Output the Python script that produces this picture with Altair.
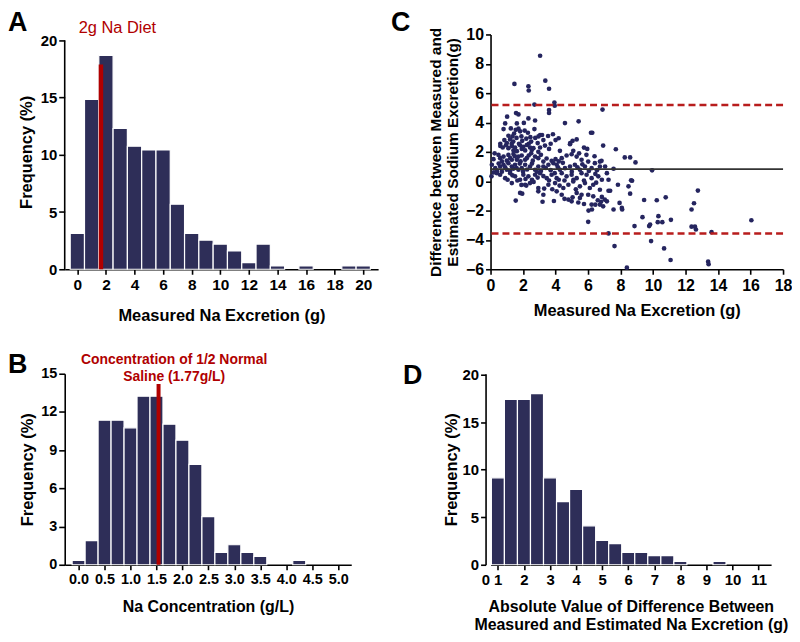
import altair as alt
import pandas as pd

FONT = "Liberation Sans"
NAVY = "#2e2e58"
DOT = "#25255f"
RED = "#b00000"
DASH_RED = "#b81d1d"

# ---------------- Panel A : Measured Na excretion histogram ----------------
a_bins = list(range(0, 21))
a_freq = [3.13, 14.84, 18.7, 12.3, 10.75, 10.43, 10.43, 5.68, 3.13, 2.55, 2.2,
          1.6, 0.58, 2.2, 0.29, 0, 0.29, 0, 0, 0.29, 0.29]
a_xticks = [0, 2, 4, 6, 8, 10, 12, 14, 16, 18, 20]
a_yticks = [0, 5, 10, 15, 20]
a_marker_x = [1.65]
a_marker_top = [17.9]
a_label = "2g Na Diet"

# ---------------- Panel B : Na concentration histogram ----------------
b_bins = [0.0, 0.25, 0.5, 0.75, 1.0, 1.25, 1.5, 1.75, 2.0, 2.25, 2.5, 2.75,
          3.0, 3.25, 3.5, 3.75, 4.0, 4.25, 4.5, 4.75, 5.0]
b_freq = [0.34, 1.9, 11.35, 11.35, 10.75, 13.23, 13.23, 11.04, 9.78, 7.88,
          3.78, 0.97, 1.57, 0.97, 0.65, 0, 0, 0.34, 0, 0, 0]
b_xticks = [0.0, 0.5, 1.0, 1.5, 2.0, 2.5, 3.0, 3.5, 4.0, 4.5, 5.0]
b_yticks = [0, 3, 6, 9, 12, 15]
b_marker_x = [1.54]
b_marker_top = [14.2]
b_label = ["Concentration of 1/2 Normal", "Saline (1.77g/L)"]

# ---------------- Panel C : Bland-Altman scatter ----------------
c_x = [3.05, 1.47, 2.33, 2.35, 3.37, 3.6, 2.7, 3.93, 3.95, 3.6, 3.6, 6.89, 1.57, 1.72, 1.02, 2.33, 2.74, 4.58, 5.42, 0.9, 1.62, 2.05,
       0.8, 1.25, 1.55, 1.72, 1.82, 2.3, 2.7, 3.05, 3.17, 3.54, 3.84, 6.18, 6.26, 1.1, 1.35, 1.9, 2.45, 2.95, 1.45, 2.1,
       0.85, 1.0, 1.2, 1.4, 1.6, 1.75, 1.95, 2.2, 2.5, 2.75, 2.9, 3.25, 4.19, 4.0, 4.9, 5.05, 5.3, 3.7, 0.6, 1.3, 2.35,
       0.6, 0.75, 0.95, 1.1, 1.31, 1.41, 1.51, 1.62, 1.82, 1.92, 2.02, 2.13, 2.23, 2.43, 2.54, 2.64, 2.94, 3.35, 4.27, 4.89,
       5.09, 5.75, 6.93, 7.71, 5.95, 3.05, 3.6,
       0.18, 0.25, 0.49, 0.59, 0.8, 1.1, 1.21, 1.31, 1.41, 1.62, 1.72, 1.92, 2.13, 2.23, 2.5, 2.74, 2.94, 3.1, 3.25, 3.76,
       4.0, 4.38, 4.68, 4.99, 5.3, 5.6, 6.01, 6.4, 6.73, 6.83, 8.26, 8.59, 0.7, 1.0, 1.5, 1.85, 2.35, 2.6, 3.45, 4.2, 5.45, 5.9,
       0.08, 0.29, 0.59, 0.8, 1.0, 1.1, 1.31, 1.51, 1.72, 1.92, 2.13, 2.43, 2.74, 2.94, 3.25, 3.56, 3.87, 4.07, 4.27, 4.58,
       4.89, 5.19, 5.5, 5.81, 6.22, 6.42, 6.73, 8.92, 9.94, 7.16, 0.4, 0.5, 0.7, 0.9, 1.2, 1.4, 1.6, 1.8, 2.0, 2.25,
       2.55, 2.85, 3.1, 3.4, 3.7, 4.15, 4.45, 5.0, 5.35, 5.65, 6.05, 6.55, 7.05, 7.57,
       0.06, 0.2, 0.39, 0.59, 0.9, 1.21, 1.51, 1.82, 2.02, 2.33, 2.74, 3.05, 3.46, 3.76, 4.07, 4.38, 4.68, 4.99, 5.3, 5.6,
       5.91, 6.22, 6.63, 1.05, 1.35, 1.65, 2.15, 2.55, 2.9, 3.25, 3.6, 3.95, 4.2, 4.55, 5.1, 5.75, 6.45, 6.85, 7.26, 8.71, 8.65,
       1.31, 2.13, 2.43, 2.94, 3.56, 3.97, 4.48, 4.79, 5.09, 5.5, 5.81, 6.11, 6.32, 6.73, 7.84, 2.2, 2.65, 3.3, 3.8, 4.25,
       5.25, 6.5, 8.49, 1.9,
       1.82, 2.94, 3.25, 4.07, 4.38, 4.79, 4.99, 5.3, 5.5, 5.6, 6.01, 6.22, 6.32, 6.73, 6.93, 7.03, 1.55, 1.95, 3.2, 3.9,
       4.55, 5.4, 5.75, 5.05, 6.8, 6.6, 6.45, 7.26, 7.36, 8.59, 7.16, 7.57, 7.94, 8.08, 8.1, 6.24, 6.03, 6.01, 7.26, 7.63,
       8.39, 8.86, 9.35, 9.45, 9.76, 9.82, 9.88, 10.23, 10.33, 10.29, 10.57, 10.78, 10.68, 11.1, 11.08, 12.37, 12.52, 12.76,
       12.37, 12.58, 12.64, 13.39, 13.42, 13.6, 16.05, 6.85]
c_y = [8.55, 6.63, 6.47, 6.18, 6.85, 6.3, 5.22, 5.36, 5.14, 4.85, 4.65, 4.88, 4.64, 4.55, 4.4, 4.28, 4.14, 3.96, 4.08, 3.94, 3.94, 3.97,
       3.55, 3.6, 3.5, 3.58, 3.4, 3.3, 3.55, 3.15, 3.15, 3.08, 3.2, 3.3, 3.3, 3.1, 3.05, 3.05, 3.0, 3.05, 3.25, 3.45,
       2.8, 2.6, 2.85, 2.7, 2.95, 2.55, 2.75, 2.9, 2.7, 2.95, 2.6, 2.8, 2.93, 2.8, 2.6, 2.75, 2.85, 2.55, 2.55, 2.55, 2.55,
       2.4, 2.3, 2.45, 2.25, 2.4, 2.1, 2.3, 2.05, 2.45, 2.2, 2.35, 2.1, 2.47, 2.3, 2.13, 2.25, 2.0, 2.43, 2.07, 2.52,
       2.07, 2.29, 2.43, 2.18, 2.2, 2.3, 2.2,
       1.5, 1.9, 1.79, 1.57, 1.68, 1.79, 1.57, 1.46, 1.85, 1.46, 1.68, 1.75, 1.46, 1.57, 1.9, 1.68, 1.57, 1.8, 1.34, 1.39,
       1.5, 1.57, 1.75, 1.84, 1.68, 1.46, 1.34, 1.7, 1.34, 1.39, 1.62, 1.62, 1.35, 1.4, 1.7, 1.35, 1.75, 1.4, 1.55, 1.35, 1.9, 1.8,
       1.12, 0.89, 1.0, 1.12, 0.78, 1.23, 1.0, 1.12, 0.78, 0.89, 1.12, 1.0, 0.78, 1.0, 1.0, 1.12, 1.23, 1.12, 0.78, 0.89,
       1.0, 1.12, 0.78, 1.0, 0.89, 1.23, 1.0, 1.28, 0.74, 0.55, 0.7, 1.2, 0.65, 0.95, 0.7, 0.85, 0.9, 1.2, 0.65, 0.8,
       1.2, 0.65, 0.7, 0.9, 0.75, 0.95, 1.25, 0.65, 0.95, 1.15, 0.7, 0.75, 1.0, 0.85,
       0.33, 0.6, 0.55, 0.44, 0.21, 0.55, 0.33, 0.1, 0.44, 0.33, 0.44, 0.55, 0.21, 0.44, 0.21, 0.55, 0.33, 0.44, 0.21, 0.55,
       0.44, 0.21, 0.33, 0.1, 0.4, 0.05, 0.15, 0.1, 0.25, 0.35, 0.05, 0.55, 0.1, 0.05, 0.1, 0.05, 0.5, 0.1, 0.1, 0.03, 0.06,
       -0.13, -0.24, -0.13, -0.46, -0.24, -0.13, -0.46, -0.24, -0.02, -0.35, -0.13, -0.46, -0.24, -0.58, -0.24, -0.3, -0.05, -0.5, -0.55, -0.3,
       -0.55, -0.1, -0.35, -0.25,
       -0.8, -0.69, -0.92, -0.69, -0.92, -1.25, -1.37, -0.8, -1.14, -0.92, -0.92, -1.59, -1.03, -1.59, -1.71, -1.25, -1.32, -0.85, -1.4, -1.35,
       -1.2, -1.45, -1.55, -1.1, -1.4, -1.3, -1.6, -0.65, -0.65, -0.85, -1.37, -1.93, -1.48, -1.82, -1.93, -1.93, -2.0, -2.77, -3.56, -4.42,
       -5.89, -3.06, -2.45, -1.28, -3.06, -2.95, -4.08, -1.3, -2.38, -2.79, -2.79, -1.1, -4.58, -2.63, -5.37, -1.93, -1.5, -0.64,
       -3.1, -3.1, -3.29, -5.48, -5.66, -3.47, -2.66, -1.07]
c_mean = [0.82]
c_limits = [5.19, -3.56]
c_xticks = [0, 2, 4, 6, 8, 10, 12, 14, 16, 18]
c_yticks = [-6, -4, -2, 0, 2, 4, 6, 8, 10]

# ---------------- Panel D : |difference| histogram ----------------
d_bins = [1.0, 1.5, 2.0, 2.5, 3.0, 3.5, 4.0, 4.5, 5.0, 5.5, 6.0, 6.5, 7.0, 7.5,
          8.0, 8.5, 9.0, 9.5, 10.0, 10.5, 11.0]
d_freq = [9.15, 17.4, 17.4, 18.0, 9.15, 6.64, 7.93, 4.1, 2.57, 2.23, 1.29, 1.29,
          0.97, 0.97, 0.35, 0, 0, 0.35, 0, 0, 0]
d_xticks = [1, 2, 3, 4, 5, 6, 7, 8, 9, 10, 11]
d_first_label = "0  1"
d_yticks = [0, 5, 10, 15, 20]


def ax(**kw):
    base = dict(tickSize=5, labelPadding=3, labelFlush=False, labelOverlap=False,
                grid=False)
    base.update(kw)
    return alt.Axis(**base)


def label_chart(txt, x, y, **mark):
    df = pd.DataFrame({"label": [txt] if isinstance(txt, str) else ["\n".join(txt)]})
    return alt.Chart(df).mark_text(clip=False, font=FONT, lineBreak="\n", **mark).encode(
        x=alt.value(x), y=alt.value(y), text=alt.Text("label:N"))


def letter(txt, x, y):
    return label_chart(txt, x, y, align="left", baseline="top", fontSize=27,
                       fontWeight="bold", color="black")


# ----- Panel A -----
xA = alt.Scale(domain=[-0.884, 21.04], nice=False, zero=False)
yA = alt.Scale(domain=[0, 20.52], nice=False)
axA_x = ax(values=a_xticks, title="Measured Na Excretion (g)",
           labelFontSize=15.5, titleFontSize=16.5, titlePadding=15)
axA_y = ax(values=a_yticks, title="Frequency (%)", domain=False,
           labelFontSize=15, titleFontSize=16.5, titlePadding=6, tickSize=6, labelPadding=2)
dfA = pd.DataFrame({"bin": a_bins, "freq": a_freq})
barsA = alt.Chart(dfA).transform_filter("datum.freq > 0").transform_calculate(
    lo="datum.bin - 0.5", hi="datum.bin + 0.5"
).mark_rect(color=NAVY, stroke="white", strokeWidth=1.2).encode(
    x=alt.X("lo:Q", scale=xA, axis=axA_x),
    x2="hi:Q",
    y=alt.Y("freq:Q", scale=yA, axis=axA_y),
    y2=alt.datum(0),
)
dfAm = pd.DataFrame({"lo": a_marker_x, "freq": a_marker_top})
markA = alt.Chart(dfAm).mark_rule(color=RED, strokeWidth=4.5).encode(
    x=alt.X("lo:Q", scale=xA, axis=axA_x),
    y=alt.Y("freq:Q", scale=yA, axis=axA_y), y2=alt.datum(0)
)
yaxisA = alt.Chart(pd.DataFrame({"freq": [20]})).mark_rule(color="black", strokeWidth=1.6).encode(
    x=alt.value(0), y=alt.Y("freq:Q", scale=yA, axis=axA_y), y2=alt.datum(0)
)
textA = label_chart(a_label, 14, -6, align="left", baseline="middle", fontSize=16.5, color=RED)
panelA = alt.layer(barsA, markA, yaxisA, textA, letter("A", -57, -24)).properties(
    width=315, height=236)

# ----- Panel B -----
xB = alt.Scale(domain=[-0.268, 5.252], nice=False, zero=False)
yB = alt.Scale(domain=[0, 15], nice=False)
axB_x = ax(values=b_xticks, format=".1f", title="Na Concentration (g/L)",
           labelFontSize=14.5, titleFontSize=16, titlePadding=12)
axB_y = ax(values=b_yticks, title="Frequency (%)",
           labelFontSize=14.5, titleFontSize=16.5, titlePadding=5, tickSize=6, labelPadding=2)
dfB = pd.DataFrame({"bin": b_bins, "freq": b_freq})
barsB = alt.Chart(dfB).transform_filter("datum.freq > 0").transform_calculate(
    lo="datum.bin - 0.125", hi="datum.bin + 0.125"
).mark_rect(color=NAVY, stroke="white", strokeWidth=1.2).encode(
    x=alt.X("lo:Q", scale=xB, axis=axB_x),
    x2="hi:Q",
    y=alt.Y("freq:Q", scale=yB, axis=axB_y),
    y2=alt.datum(0),
)
dfBm = pd.DataFrame({"lo": b_marker_x, "freq": b_marker_top})
markB = alt.Chart(dfBm).mark_rule(color=RED, strokeWidth=4).encode(
    x=alt.X("lo:Q", scale=xB, axis=axB_x),
    y=alt.Y("freq:Q", scale=yB, axis=axB_y), y2=alt.datum(0)
)
textB = label_chart(b_label, 110, -14, align="center", baseline="middle", fontSize=14,
                    fontWeight="bold", color=RED, lineHeight=17)
panelB = alt.layer(barsB, markB, textB, letter("B", -57, -22)).properties(width=288, height=192)

# ----- Panel C -----
xC = alt.Scale(domain=[0, 18], nice=False)
yC = alt.Scale(domain=[-6, 10], nice=False)
axC_x = ax(values=c_xticks, title="Measured Na Excretion (g)",
           labelFontSize=16, titleFontSize=16.5, titlePadding=9)
axC_y = ax(values=c_yticks,
           title=["Difference between Measured and", "Estimated Sodium Excretion(g)"],
           labelFontSize=16, titleFontSize=15.5, titlePadding=5, tickSize=5, labelPadding=2)
dfC = pd.DataFrame({"x": c_x, "y": c_y})
ptsC = alt.Chart(dfC).mark_circle(size=22, color=DOT, opacity=1, clip=False).encode(
    x=alt.X("x:Q", scale=xC, axis=axC_x),
    y=alt.Y("y:Q", scale=yC, axis=axC_y),
)
meanC = alt.Chart(pd.DataFrame({"y": c_mean})).mark_rule(color="#333333", strokeWidth=1.8).encode(
    y=alt.Y("y:Q", scale=yC, axis=axC_y))
limC = alt.Chart(pd.DataFrame({"y": c_limits})).mark_rule(
    color=DASH_RED, strokeWidth=2.4, strokeDash=[7, 4]).encode(
    y=alt.Y("y:Q", scale=yC, axis=axC_y))
panelC = alt.layer(ptsC, meanC, limC, letter("C", -100, -24)).properties(width=294, height=236)

# ----- Panel D -----
xD = alt.Scale(domain=[0.718, 11.48], nice=False, zero=False)
yD = alt.Scale(domain=[0, 20.1], nice=False)
axD_x = ax(values=d_xticks,
           title=["Absolute Value of Difference Between", "Measured and Estimated Na Excretion (g)"],
           labelFontSize=15, titleFontSize=16, titlePadding=11,
           labelExpr="datum.value == 1 ? '" + d_first_label + "' : datum.label",
           labelAlign={"condition": {"test": "datum.value == 1", "value": "right"},
                       "value": "center"},
           labelOffset={"condition": {"test": "datum.value == 1", "value": 4},
                        "value": 0})
axD_y = ax(values=d_yticks, title="Frequency (%)", offset=5,
           labelFontSize=15, titleFontSize=16.5, titlePadding=3, tickSize=5, labelPadding=2)
dfD = pd.DataFrame({"bin": d_bins, "freq": d_freq})
barsD = alt.Chart(dfD).transform_filter("datum.freq > 0").transform_calculate(
    lo="datum.bin - 0.25", hi="datum.bin + 0.25"
).mark_rect(color=NAVY, stroke="white", strokeWidth=1.2).encode(
    x=alt.X("lo:Q", scale=xD, axis=axD_x),
    x2="hi:Q",
    y=alt.Y("freq:Q", scale=yD, axis=axD_y),
    y2=alt.datum(0),
)
panelD = alt.layer(barsD, letter("D", -88, -11)).properties(width=282, height=192)

chart = alt.concat(
    panelA, panelC, panelB, panelD, columns=2,
    spacing={"row": 105, "column": 113}, bounds="flush"
).properties(padding=0).configure_axis(
    labelFont=FONT, titleFont=FONT, labelFontWeight="bold", titleFontWeight="bold",
    labelColor="black", titleColor="black", domainColor="black", tickColor="black",
    domainWidth=1.6, tickWidth=1.6, zindex=1
).configure_view(stroke=None)

chart.save("out.html", embed_options={"renderer": "svg", "actions": False})
